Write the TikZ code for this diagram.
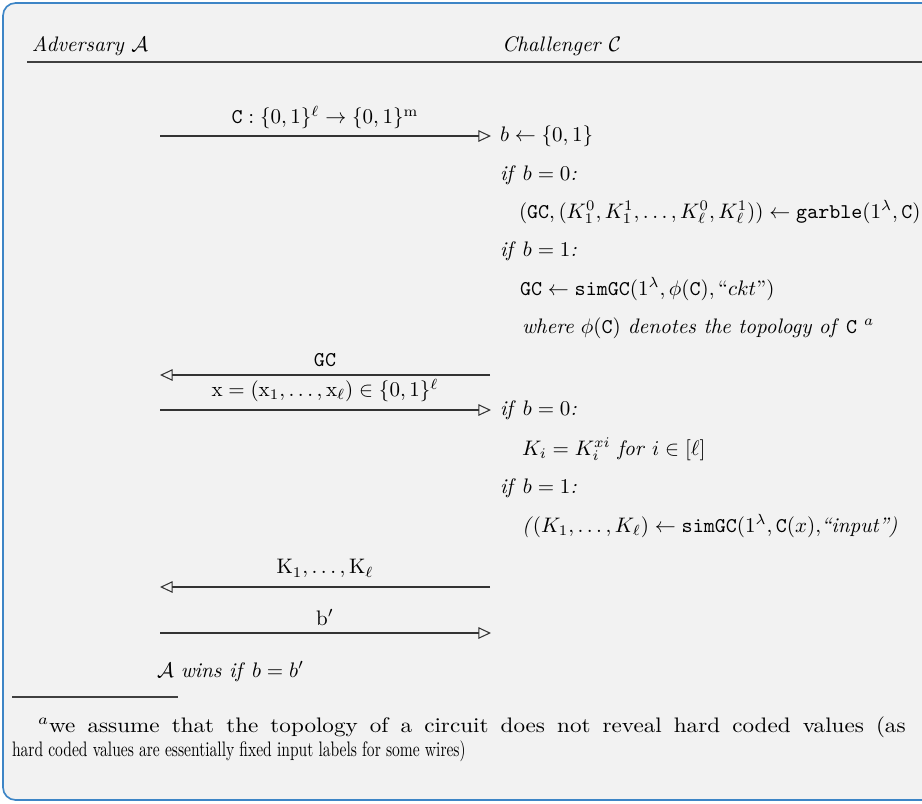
\documentclass[tikz,border=0pt]{standalone}
\usepackage{amsmath,amssymb}
\usetikzlibrary{arrows.meta}
\definecolor{bgc}{HTML}{F2F2F2}
\definecolor{bordc}{HTML}{3D85C6}
\newcommand{\fwa}[1]{\scalebox{1.1}[1]{#1}}
\begin{document}
\begin{tikzpicture}[x=0.476pt,y=-0.476pt,
  every node/.style={inner sep=0pt, outer sep=0pt},
  txt/.style={anchor=base west},
  lab/.style={anchor=south},
  fn/.style={anchor=base west},
  msg/.style={draw=black!80, line width=0.5pt, -{Triangle[open,length=6pt,width=5.5pt,line width=0.5pt]}},
  hrule/.style={draw=black!75, line width=0.6pt}]
\path[use as bounding box] (0,0) rectangle (922,803);
\clip (0,0) rectangle (922,803);
\draw[fill=bgc, draw=bordc, line width=0.8pt, rounded corners=6pt] (3,3) rectangle (960,800);
% header
\node[txt] (adv) at (32,51) {\textit{Adversary} $\mathcal{A}$};
\node[txt] (chal) at (502,51) {\textit{Challenger} $\mathcal{C}$};
\coordinate (hl) at (27,62);
\coordinate (hr) at (922,62);
\draw[hrule] (hl) -- (hr);
% messages
\coordinate (a1) at (160,136); \coordinate (c1) at (491,136);
\draw[msg] (a1) -- (c1);
\node[lab] (l1) at (325,129) {$\mathtt{C}:\{0,1\}^{\ell}\to\{0,1\}^{\mathrm{m}}$};
\coordinate (c2) at (490,375); \coordinate (a2) at (160,375);
\draw[msg] (c2) -- (a2);
\node[lab] (l2) at (325,366) {$\mathtt{GC}$};
\coordinate (a3) at (160,410); \coordinate (c3) at (491,410);
\draw[msg] (a3) -- (c3);
\node[lab] (l3) at (325,402) {$\mathrm{x}=(\mathrm{x}_1,\ldots,\mathrm{x}_\ell)\in\{0,1\}^{\ell}$};
\coordinate (c4) at (490,587); \coordinate (a4) at (160,587);
\draw[msg] (c4) -- (a4);
\node[lab] (l4) at (325,578) {$\mathrm{K}_1,\ldots,\mathrm{K}_\ell$};
\coordinate (a5) at (160,633); \coordinate (c5) at (491,633);
\draw[msg] (a5) -- (c5);
\node[lab] (l5) at (325,625) {$\mathrm{b}'$};
% challenger column
\node[txt] (r1) at (500,141) {$b\gets\{0,1\}$};
\node[txt] (r2) at (500,180) {\textit{if} $b=0$\textit{:}};
\node[txt] (r3) at (519,218) {$(\mathtt{GC},(K_1^0,K_1^1,\ldots,K_\ell^0,K_\ell^1))\gets\mathtt{garble}(1^\lambda,\mathtt{C})$};
\node[txt] (r4) at (500,256) {\textit{if} $b=1$\textit{:}};
\node[txt] (r5) at (520,295) {$\mathtt{GC}\gets\mathtt{simGC}(1^\lambda,\phi(\mathtt{C}),\text{``}ckt\text{''})$};
\node[txt] (r6) at (522,333) {\textit{where} $\phi(\mathtt{C})$ \textit{denotes the topology of} $\mathtt{C}$ $^{a}$};
\node[txt] (r7) at (500,415) {\textit{if} $b=0$\textit{:}};
\node[txt] (r8) at (522,455) {$K_i=K_i^{xi}$ \textit{for} $i\in[\ell]$};
\node[txt] (r9) at (500,493) {\textit{if} $b=1$\textit{:}};
\node[txt] (r10) at (522,532) {\textit{(}$(K_1,\ldots,K_\ell)\gets\mathtt{simGC}(1^\lambda,\mathtt{C}(x),$\textit{``input'')}};
% adversary result
\node[txt] (win) at (157,677) {$\mathcal{A}$ \textit{wins if} $b=b'$};
% footnote
\coordinate (fl) at (12,697); \coordinate (fr) at (178,697);
\draw[hrule] (fl) -- (fr);
\node[fn] (f1) at (38,732) {\makebox[413pt][s]{\fwa{$^{a}$we} \fwa{assume} \fwa{that} \fwa{the} \fwa{topology} \fwa{of} \fwa{a} \fwa{circuit} \fwa{does} \fwa{not} \fwa{reveal} \fwa{hard} \fwa{coded} \fwa{values} \fwa{(as}}};
\node[fn] (f2) at (12,756) {\scalebox{0.74}[1]{hard coded values are essentially fixed input labels for some wires)}};
\end{tikzpicture}
\end{document}
